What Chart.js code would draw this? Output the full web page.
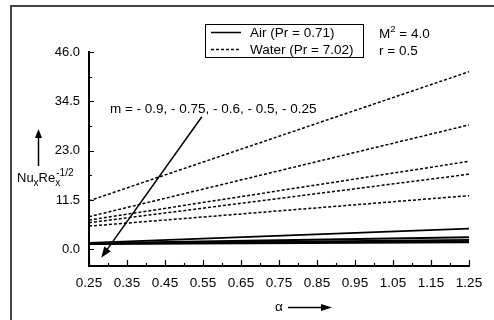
<!DOCTYPE html>
<html>
<head>
<meta charset="utf-8">
<script src="https://cdn.jsdelivr.net/npm/chart.js@4.4.1/dist/chart.umd.min.js"></script>
<style>
  html, body { margin: 0; padding: 0; background: #fff; }
  #wrap { width: 494px; height: 320px; }
</style>
</head>
<body>
<div id="wrap"><canvas id="c" width="494" height="320"></canvas></div>
<script>
// x positions (alpha) at which values were read
const alphaValues = [0.25, 1.25];
// Air (Pr = 0.71), solid lines
const airM090 = [1.5, 4.8];
const airM075 = [1.4, 2.8];
const airM060 = [1.3, 2.2];
const airM050 = [1.3, 1.9];
const airM025 = [1.2, 1.6];
// Water (Pr = 7.02), dashed lines
const waterM090 = [11.3, 41.4];
const waterM075 = [7.6, 29.0];
const waterM060 = [6.8, 20.5];
const waterM050 = [6.2, 17.5];
const waterM025 = [5.4, 12.5];
// tick labels
const xTicks = [0.25, 0.35, 0.45, 0.55, 0.65, 0.75, 0.85, 0.95, 1.05, 1.15, 1.25];
const yTicks = [0.0, 11.5, 23.0, 34.5, 46.0];
const xMinorTicks = [0.30, 0.40, 0.50, 0.60, 0.70, 0.80, 0.90, 1.00, 1.10, 1.20];
const yMinorTicks = [5.75, 17.25, 28.75, 40.25];
// annotation arrow (in data units)
const mArrowStart = [0.547, 30.9];
const mArrowEnd = [0.282, -2.0];
const mLabelPos = [0.305, 32.6];

const FONT = '"Liberation Sans", Arial, sans-serif';

function pts(ys) { return alphaValues.map((x, i) => ({ x: x, y: ys[i] })); }
function airSet(label, ys) {
  return { label, data: pts(ys), borderColor: '#000', borderWidth: 1.8, pointRadius: 0, fill: false, tension: 0 };
}
function waterSet(label, ys) {
  return { label, data: pts(ys), borderColor: '#000', borderWidth: 1.5, borderDash: [3, 2], pointRadius: 0, fill: false, tension: 0 };
}

function arrowHead(ctx, x1, y1, x2, y2, len, half) {
  const a = Math.atan2(y2 - y1, x2 - x1);
  ctx.beginPath();
  ctx.moveTo(x2, y2);
  ctx.lineTo(x2 - len * Math.cos(a) + half * Math.sin(a), y2 - len * Math.sin(a) - half * Math.cos(a));
  ctx.lineTo(x2 - len * Math.cos(a) - half * Math.sin(a), y2 - len * Math.sin(a) + half * Math.cos(a));
  ctx.closePath();
  ctx.fill();
}

const decor = {
  id: 'decor',
  afterDraw(chart) {
    const ctx = chart.ctx;
    const xs = chart.scales.x, ys = chart.scales.y;
    const ca = chart.chartArea;
    ctx.save();
    // outer frame
    ctx.strokeStyle = '#444';
    ctx.lineWidth = 2;
    ctx.beginPath();
    ctx.moveTo(11, 330);
    ctx.lineTo(11, 6);
    ctx.lineTo(500, 6);
    ctx.stroke();

    // inward ticks
    ctx.strokeStyle = '#000';
    ctx.lineWidth = 1.2;
    ctx.beginPath();
    xTicks.forEach(v => { const p = Math.round(xs.getPixelForValue(v)) + 0.5; ctx.moveTo(p, ca.bottom); ctx.lineTo(p, ca.bottom - 6); });
    xMinorTicks.forEach(v => { const p = Math.round(xs.getPixelForValue(v)) + 0.5; ctx.moveTo(p, ca.bottom); ctx.lineTo(p, ca.bottom - 3); });
    yTicks.forEach(v => { const p = Math.round(ys.getPixelForValue(v)) + 0.5; ctx.moveTo(ca.left, p); ctx.lineTo(ca.left + 5, p); });
    yMinorTicks.forEach(v => { const p = Math.round(ys.getPixelForValue(v)) + 0.5; ctx.moveTo(ca.left, p); ctx.lineTo(ca.left + 3, p); });
    ctx.stroke();

    ctx.fillStyle = '#000';
    ctx.textBaseline = 'middle';
    ctx.textAlign = 'left';

    // legend box
    ctx.lineWidth = 1;
    ctx.strokeStyle = '#000';
    ctx.strokeRect(205.5, 24.5, 158, 33);
    ctx.lineWidth = 1.5;
    ctx.beginPath(); ctx.moveTo(211, 32.5); ctx.lineTo(241, 32.5); ctx.stroke();
    ctx.setLineDash([3, 2]);
    ctx.beginPath(); ctx.moveTo(211, 49.5); ctx.lineTo(241, 49.5); ctx.stroke();
    ctx.setLineDash([]);
    ctx.font = '13.5px ' + FONT;
    ctx.fillText('Air (Pr = 0.71)', 250, 33);
    ctx.fillText('Water (Pr = 7.02)', 250, 50);

    // parameters
    ctx.fillText('M', 379, 34);
    let w = ctx.measureText('M').width;
    ctx.font = '9.5px ' + FONT;
    ctx.fillText('2', 379 + w, 29);
    let w2 = ctx.measureText('2').width;
    ctx.font = '13.5px ' + FONT;
    ctx.fillText(' = 4.0', 379 + w + w2, 34);
    ctx.fillText('r = 0.5', 379, 51);

    // m annotation
    ctx.font = '13.5px ' + FONT;
    ctx.fillText('m = - 0.9, - 0.75, - 0.6, - 0.5, - 0.25', xs.getPixelForValue(mLabelPos[0]), ys.getPixelForValue(mLabelPos[1]));
    const ax1 = xs.getPixelForValue(mArrowStart[0]), ay1 = ys.getPixelForValue(mArrowStart[1]);
    const ax2 = xs.getPixelForValue(mArrowEnd[0]), ay2 = ys.getPixelForValue(mArrowEnd[1]);
    ctx.lineWidth = 1.5;
    ctx.beginPath(); ctx.moveTo(ax1, ay1);
    const ang = Math.atan2(ay2 - ay1, ax2 - ax1);
    ctx.lineTo(ax2 - 8 * Math.cos(ang), ay2 - 8 * Math.sin(ang));
    ctx.stroke();
    arrowHead(ctx, ax1, ay1, ax2, ay2, 11, 4);

    // y axis title
    ctx.font = '13px ' + FONT;
    let x0 = 17, yb = 178;
    ctx.fillText('Nu', x0, yb); x0 += ctx.measureText('Nu').width;
    ctx.font = '10px ' + FONT;
    ctx.fillText('x', x0, yb + 5); x0 += ctx.measureText('x').width;
    ctx.font = '13px ' + FONT;
    ctx.fillText('Re', x0, yb); x0 += ctx.measureText('Re').width;
    ctx.font = '10px ' + FONT;
    ctx.fillText('x', x0, yb + 5);
    ctx.fillText('-1/2', x0 + 1, yb - 5);
    // vertical arrow
    ctx.lineWidth = 1.5;
    ctx.beginPath(); ctx.moveTo(38.5, 166); ctx.lineTo(38.5, 136); ctx.stroke();
    arrowHead(ctx, 38.5, 166, 38.5, 129, 9, 3.5);

    // x axis title
    ctx.font = '13.5px ' + FONT;
    ctx.fillText('\u03B1', 275, 307);
    ctx.beginPath(); ctx.moveTo(288, 307.5); ctx.lineTo(322, 307.5); ctx.stroke();
    arrowHead(ctx, 288, 307.5, 332, 307.5, 11, 3.5);
    ctx.restore();
  }
};

new Chart(document.getElementById('c'), {
  type: 'line',
  data: {
    datasets: [
      airSet('Air m=-0.9', airM090),
      airSet('Air m=-0.75', airM075),
      airSet('Air m=-0.6', airM060),
      airSet('Air m=-0.5', airM050),
      airSet('Air m=-0.25', airM025),
      waterSet('Water m=-0.9', waterM090),
      waterSet('Water m=-0.75', waterM075),
      waterSet('Water m=-0.6', waterM060),
      waterSet('Water m=-0.5', waterM050),
      waterSet('Water m=-0.25', waterM025)
    ]
  },
  options: {
    responsive: false,
    animation: false,
    devicePixelRatio: 1,
    layout: { padding: { top: 52, right: 25, left: 0, bottom: 0 } },
    plugins: { legend: { display: false }, tooltip: { enabled: false } },
    scales: {
      x: {
        type: 'linear', min: 0.25, max: 1.25,
        grid: { display: false, drawTicks: false },
        border: { display: true, color: '#000', width: 2 },
        ticks: { color: '#000', font: { family: FONT, size: 13.5 }, padding: 9, maxRotation: 0, autoSkip: false,
                 callback: v => Number(v).toFixed(2) },
        afterBuildTicks: s => { s.ticks = xTicks.map(v => ({ value: v })); },
        afterFit: s => { s.height = 54; }
      },
      y: {
        type: 'linear', min: -3.9, max: 46,
        grid: { display: false, drawTicks: false },
        border: { display: true, color: '#000', width: 2 },
        ticks: { color: '#000', font: { family: FONT, size: 13 }, padding: 9, autoSkip: false,
                 callback: v => Number(v).toFixed(1) },
        afterBuildTicks: s => { s.ticks = yTicks.map(v => ({ value: v })); },
        afterFit: s => { s.width = 89; }
      }
    }
  },
  plugins: [decor]
});
</script>
</body>
</html>
